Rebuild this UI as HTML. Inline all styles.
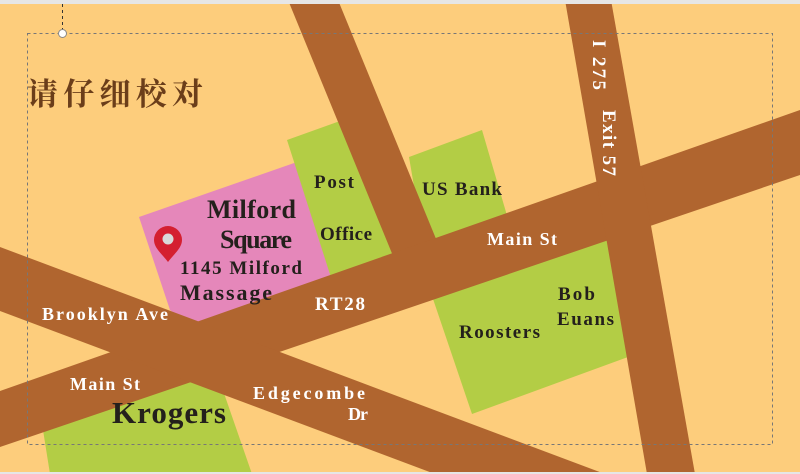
<!DOCTYPE html>
<html><head><meta charset="utf-8"><style>
html,body{margin:0;padding:0;background:#fdcd7c;width:800px;height:474px;overflow:hidden;}
svg{display:block}
.w{fill:#fff;font-family:"Liberation Serif",serif;font-weight:bold;}
.d{fill:#24201c;font-family:"Liberation Serif",serif;font-weight:bold;}
</style></head><body>
<svg width="800" height="474" viewBox="0 0 800 474" xmlns="http://www.w3.org/2000/svg">
<rect width="800" height="474" fill="#fdcd7c"/>
<polygon points="139,217 297,162 345,290 207,340 170,310" fill="#e587ba"/>
<polygon points="287,140 340,121 420,300 335,290" fill="#b3cd45"/>
<polygon points="409,157 482,130 520,260 430,280" fill="#b3cd45"/>
<polygon points="432,296 472,414 628,357 600,200 420,260" fill="#b3cd45"/>
<polygon points="43,430 50,474 252,474 218,376 150,380" fill="#b3cd45"/>
<g fill="#b0652f">
<polygon points="288,0 338,0 457,290 407,290"/>
<polygon points="0,391 0,447 800,175 800,110"/>
<polygon points="0,247 0,311 435,474 605,474"/>
<polygon points="565,0 611,0 695,474 647,474"/>
</g>
<rect x="0" y="0" width="800" height="4" fill="#e6e6e6"/>
<rect x="0" y="472" width="800" height="2" fill="#e6e6e6"/>
<rect x="27.5" y="33.5" width="745" height="411" fill="none" stroke="#777" stroke-width="1" stroke-dasharray="3,3"/>
<line x1="62.5" y1="4" x2="62.5" y2="30" stroke="#333" stroke-dasharray="3,3"/>
<circle cx="62.5" cy="33.5" r="4" fill="#fff" stroke="#888"/>
<path d="M168,226 a14,14 0 0 1 14,14 c0,8 -8,14 -14,22 c-6,-8 -14,-14 -14,-22 a14,14 0 0 1 14,-14z" fill="#d41f30"/>
<circle cx="168" cy="239" r="5.5" fill="#d9d9d9"/>
<text x="27" y="105" font-family="'Noto Serif CJK SC','Noto Sans CJK SC',serif" font-size="31" font-weight="bold" fill="#6b3e1a" textLength="176" lengthAdjust="spacing">请仔细校对</text>
<text class="d" x="207" y="218" font-size="26" textLength="89">Milford</text>
<text class="d" x="220" y="248" font-size="26" textLength="72">Square</text>
<text class="d" x="180" y="274" font-size="19" textLength="122">1145 Milford</text>
<text class="d" x="180" y="300" font-size="22" textLength="92">Massage</text>
<text class="d" x="314" y="188" font-size="19" textLength="40">Post</text>
<text class="d" x="320" y="240" font-size="19" textLength="52">Office</text>
<text class="d" x="422" y="195" font-size="19" textLength="80">US Bank</text>
<text class="w" x="487" y="245" font-size="18" textLength="70">Main St</text>
<text class="w" transform="translate(593,40) rotate(90)" font-size="19" textLength="50">I 275</text>
<text class="w" transform="translate(603,110) rotate(90)" font-size="19" textLength="66">Exit 57</text>
<text class="d" x="558" y="300" font-size="19" textLength="37">Bob</text>
<text class="d" x="557" y="325" font-size="19" textLength="57">Euans</text>
<text class="d" x="459" y="338" font-size="19" textLength="81">Roosters</text>
<text class="w" x="315" y="310" font-size="19" textLength="50">RT28</text>
<text class="w" x="42" y="320" font-size="18" textLength="126">Brooklyn Ave</text>
<text class="w" x="70" y="390" font-size="18" textLength="70">Main St</text>
<text class="d" x="112" y="423" font-size="31" textLength="114">Krogers</text>
<text class="w" x="253" y="399" font-size="18" textLength="112">Edgecombe</text>
<text class="w" x="348" y="420" font-size="18" textLength="20">Dr</text>
</svg>
</body></html>
